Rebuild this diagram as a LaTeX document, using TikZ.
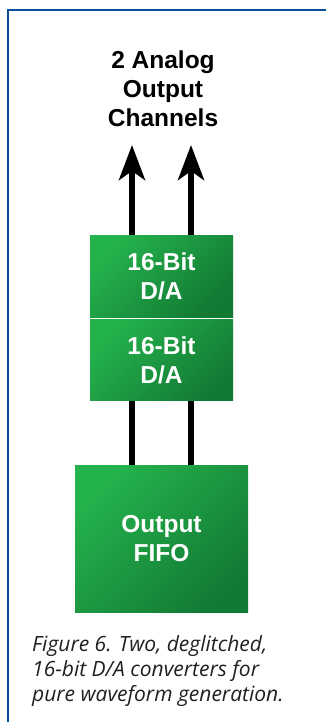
\documentclass[tikz,border=0pt]{standalone}
\usepackage{fontspec}
\setmainfont{Liberation Sans}
\newfontfamily\capfont{Open Sans}
\usetikzlibrary{arrows.meta,positioning}
\definecolor{frameblue}{RGB}{8,80,155}
\definecolor{greenlight}{RGB}{36,178,76}
\definecolor{greendark}{RGB}{19,122,52}
\definecolor{captext}{RGB}{35,31,32}

\begin{document}
\begin{tikzpicture}[
      x=1pt,y=-1pt,
      every node/.style={inner sep=0pt,font=\fontsize{24.5}{29}\selectfont\bfseries},
      block/.style={left color=greenlight,right color=greendark,shading angle=45,
        text=white,align=center},
      bus/.style={line width=6pt,black},
      outarrow/.style={bus,-{Stealth[length=35pt,width=26pt,inset=9pt]}}
    ]
      \useasboundingbox (0,0) rectangle (326,722);
      \draw[frameblue,line width=2.5pt] (8,730) -- (8,10) -- (326,10);
      \node[align=center] (title) at (163,89) {2 Analog\\Output\\Channels};
      \node[block,minimum width=143pt,minimum height=82pt] (da1) at (161.5,276) {16-Bit\\D/A};
      \node[block,minimum width=143pt,minimum height=81pt,below=2pt of da1] (da2) {16-Bit\\D/A};
      \node[block,minimum width=173pt,minimum height=147pt] (fifo) at (161.5,538.5) {Output\\FIFO};
      \coordinate (out1) at (132,145);
      \coordinate (out2) at (191,145);
      \draw[bus] ([xshift=-29.5pt]fifo.north) -- ([xshift=-29.5pt]da2.south);
      \draw[bus] ([xshift=29.5pt]fifo.north) -- ([xshift=29.5pt]da2.south);
      \draw[outarrow] ([xshift=-29.5pt]da1.north) -- (out1);
      \draw[outarrow] ([xshift=29.5pt]da1.north) -- (out2);
      \node[anchor=north west,align=left,text=captext,
        font=\capfont\fontsize{21}{25}\selectfont\itshape] (caption) at (32,635)
        {Figure 6. Two, deglitched,\\16-bit D/A converters for\\pure waveform generation.};
    \end{tikzpicture}
\end{document}
